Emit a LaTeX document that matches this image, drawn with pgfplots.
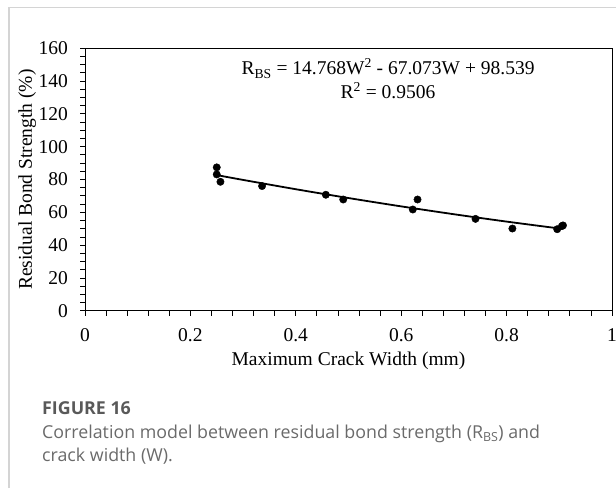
\documentclass[border=0pt]{standalone}
\usepackage{pgfplots}
\pgfplotsset{compat=1.18}
\usepackage{fontspec}
\setmainfont{Liberation Serif}
\newfontfamily\capfont{Open Sans}
\definecolor{framegray}{HTML}{D4D4D4}
\definecolor{capdark}{HTML}{595959}
\definecolor{captext}{HTML}{6A6A6A}
\begin{document}
\begin{tikzpicture}[x=1pt,y=1pt]
\useasboundingbox (0,0) rectangle (616,488);
% outer frame (top and left visible)
\draw[framegray, line width=1.2pt] (9,0) -- (9,480.5) -- (616,480.5);
\begin{axis}[
  at={(85pt,177.3pt)}, anchor=south west,
  scale only axis, width=527pt, height=262.4pt,
  xmin=0, xmax=1, ymin=0, ymax=160,
  xtick={0,0.2,0.4,0.6,0.8,1},
  xticklabels={0,0.2,0.4,0.6,0.8,1},
  ytick={0,20,...,160},
  minor x tick num=4, minor y tick num=3,
  tick align=outside,
  xtick pos=bottom, ytick pos=left,
  major tick length=5pt, minor tick length=5pt,
  tick style={black, line width=0.8pt},
  axis line style={black, line width=1pt},
  /pgf/number format/assume math mode=true,
  tick label style={font=\fontsize{19.5}{22}\selectfont},
  yticklabel style={xshift=-8.5pt},
  xticklabel style={yshift=-9pt},
  label style={font=\fontsize{19.5}{22}\selectfont},
  xlabel={Maximum Crack Width (mm)},
  ylabel={Residual Bond Strength (\%)},
  xlabel style={at={(axis description cs:0.5,-0.2107)}, anchor=base},
  ylabel style={at={(axis description cs:-0.1006,0.5)}, anchor=base, rotate=0},
  clip=false,
]
% fitted trend line (from the printed equation)
\addplot[black, line width=1.8pt, smooth] coordinates {
  (0.25,82.694) (0.30,79.746) (0.40,74.073) (0.50,68.694)
  (0.60,63.611) (0.70,58.824) (0.80,54.333) (0.905,49.933)
};
% measured data
\addplot[only marks, mark=*, mark size=3.7pt, mark options={black, fill=black}] coordinates {
  (0.250,87.4) (0.250,83.1) (0.257,78.6) (0.336,76.0)
  (0.457,70.7) (0.490,67.8) (0.622,61.7) (0.631,67.8)
  (0.741,56.0) (0.811,50.1) (0.896,49.7) (0.905,51.6)
  (0.907,52.0)
};
\node[font=\fontsize{19.5}{22}\selectfont, anchor=center] at (axis cs:0.575,147.8)
  {R\textsubscript{BS} = 14.768W\textsuperscript{2} - 67.073W + 98.539};
\node[font=\fontsize{19.5}{22}\selectfont, anchor=center] at (axis cs:0.575,134.1)
  {R\textsuperscript{2} = 0.9506};
\end{axis}
% caption
\node[anchor=base west, inner sep=0pt, font=\capfont\fontsize{17.8}{20}\selectfont\bfseries, text=capdark] at (42,488-414) {FIGURE 16};
\node[anchor=base west, inner sep=0pt, font=\capfont\fontsize{17.8}{20}\selectfont, text=captext] at (42,488-438)
  {Correlation model between residual bond strength (R\textsubscript{BS}) and};
\node[anchor=base west, inner sep=0pt, font=\capfont\fontsize{17.8}{20}\selectfont, text=captext] at (42,488-461)
  {crack width (W).};
\end{tikzpicture}
\end{document}
